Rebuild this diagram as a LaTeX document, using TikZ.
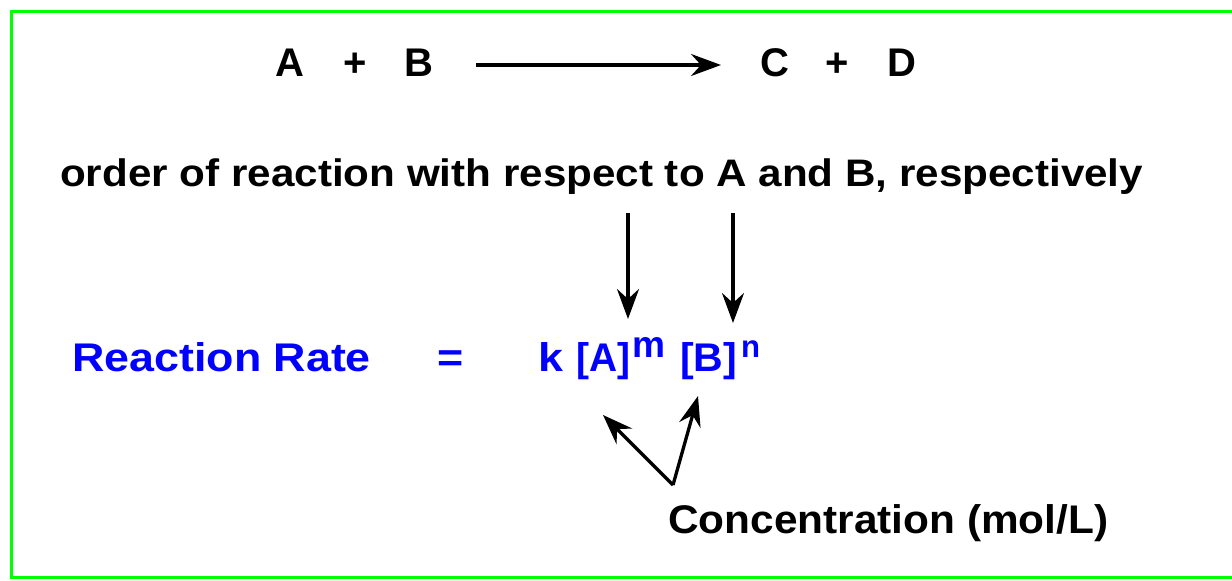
\documentclass[tikz,border=0pt]{standalone}
\usepackage{fontspec}
\setmainfont{Liberation Sans}
\usetikzlibrary{arrows.meta}
\definecolor{framegreen}{RGB}{0,255,0}
\definecolor{rateblue}{RGB}{0,0,255}
\newcommand{\sx}[2]{\scalebox{#1}[1]{#2}}
\newcommand{\fitwd}[2]{\resizebox{#1}{\height}{#2}}
\tikzset{
  txt/.style={inner sep=0pt, anchor=base west, font=\fontsize{40}{48}\selectfont\bfseries},
  txtmid/.style={inner sep=0pt, anchor=base west, font=\fontsize{37}{44}\selectfont\bfseries},
  supx/.style={inner sep=0pt, anchor=base west, font=\fontsize{29}{34}\selectfont\bfseries},
  blu/.style={text=rateblue},
  arr/.style={line width=3.3pt, -{Stealth[length=30pt,width=22pt,inset=10pt]}},
  frame/.style={draw=framegreen, line width=3pt}
}
\begin{document}
\begin{tikzpicture}[x=1pt,y=-1pt]
\useasboundingbox (0,0) rectangle (1232,581);
\draw[frame] (1240,11.5) -- (11.5,11.5) -- (11.5,577.5) -- (1240,577.5);
% reaction
\node[txt] (A) at (275,76) {A};
\node[txt] (p1) at (343,76) {+};
\node[txt] (B) at (404,76) {B};
\node[txt] (C) at (760,76) {C};
\node[txt] (p2) at (825,76) {+};
\node[txt] (D) at (887,76) {D};
\coordinate (r0) at (476,65);
\coordinate (r1) at (721,65);
\draw[arr] (r0) -- (r1);
% order line
\node[txtmid] (order) at (60,186) {\resizebox{1083pt}{!}{\sx{1.1}{order of reaction with respect to A and B, respectively}}};
% rate law
\node[txt,blu] (rr) at (72,371) {\sx{1.12}{Reaction Rate}};
\node[txt,blu] (eq) at (437,371) {\sx{1.12}{=}};
\node[txt,blu] (k) at (538,371) {\sx{1.12}{k}};
\node[txt,blu] (bA) at (576,371) {\fitwd{54pt}{[A]}};
\node[supx,blu] (m) at (632,357) {\resizebox{33pt}{!}{m}};
\node[txt,blu] (bB) at (680,371) {\fitwd{57pt}{[B]}};
\node[supx,blu] (n) at (741,357) {\resizebox{19pt}{!}{n}};
% order arrows
\coordinate (oa) at (628,213);
\coordinate (ob) at (733,213);
\coordinate (ma) at (628,319);
\coordinate (nb) at (733,323);
\draw[arr] (oa) -- (ma);
\draw[arr] (ob) -- (nb);
% concentration
\node[txt] (conc) at (668,533) {\resizebox{440pt}{!}{\sx{1.06}{Concentration (mol/L)}}};
\coordinate (cv) at (673,485);
\coordinate (ca) at (603,415);
\coordinate (cb) at (698,396);
\draw[arr] (cv) -- (ca);
\draw[arr] (cv) -- (cb);
\end{tikzpicture}
\end{document}
